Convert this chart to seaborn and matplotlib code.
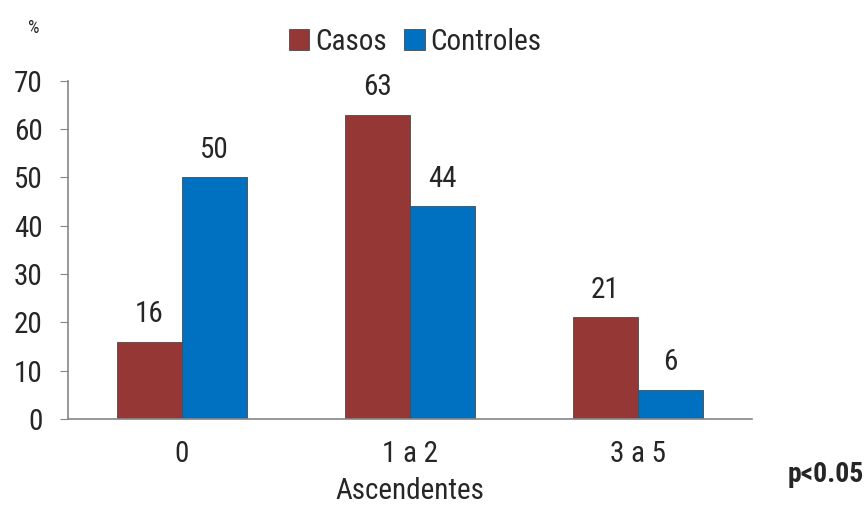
import pandas as pd
import matplotlib.pyplot as plt
import seaborn as sns
from matplotlib import font_manager

# data
categorias = ["0", "1 a 2", "3 a 5"]
casos = [16, 63, 21]
controles = [50, 44, 6]
series = ["Casos", "Controles"]
colores = ["#953735", "#0070C0"]

df = pd.DataFrame({
    "Ascendentes": categorias * 2,
    "valor": casos + controles,
    "grupo": ["Casos"] * 3 + ["Controles"] * 3,
})

sns.set_style("white")
names = {f.name for f in font_manager.fontManager.ttflist}
prefer = ["Liberation Sans Narrow", "Roboto Condensed", "Open Sans Condensed", "Liberation Sans"]
fam = [f for f in prefer if f in names][0]
narrow = fam != "Liberation Sans"
plt.rcParams["font.family"] = [fam, "DejaVu Sans"]
fs = 21 if narrow else 19

fig = plt.figure(figsize=(8.67, 5.12), dpi=100)
ax = fig.add_axes([0.078, 0.182, 0.789, 0.66])

sns.barplot(data=df, x="Ascendentes", y="valor", hue="grupo", palette=colores,
            width=0.57, saturation=1, edgecolor="#4a4a4a", linewidth=0.6, ax=ax)

# value labels, baseline about 19 px above the bar
for cont in ax.containers:
    for bar in cont:
        h = bar.get_height()
        ax.annotate(f"{h:.0f}", (bar.get_x() + bar.get_width() / 2, h),
                    xytext=(0, 14), textcoords="offset points",
                    ha="center", va="baseline", fontsize=fs)

ax.set_ylim(0, 70)
ax.set_yticks(range(0, 71, 10))
ax.set_xlim(-0.5, 2.5)
ax.set_xticks([-0.5, 0.5, 1.5, 2.5], minor=True)
ax.tick_params(axis="x", which="major", length=0, labelsize=fs, pad=15)
ax.tick_params(axis="x", which="minor", length=6, color="#868686", direction="out")
ax.tick_params(axis="y", length=6, color="#868686", direction="out", labelsize=fs, left=True, pad=12)

sns.despine(ax=ax)
for s in ["left", "bottom"]:
    ax.spines[s].set_color("#868686")
    ax.spines[s].set_linewidth(1.2)

ax.set_xlabel("Ascendentes", fontsize=fs, labelpad=7)
ax.set_ylabel("")
ax.text(-0.05, 1.157, "%", transform=ax.transAxes, fontsize=13, ha="center", va="center")

leg = ax.legend(loc="center", bbox_to_anchor=(0.508, 1.116), ncol=2, frameon=False,
                fontsize=fs, handlelength=0.7, handleheight=0.7, handletextpad=0.2,
                columnspacing=0.6)

fig.text(0.997, 0.074, "p<0.05", fontsize=fs - 1, fontweight="bold", ha="right", va="center")

plt.savefig("out.png", dpi=100)
